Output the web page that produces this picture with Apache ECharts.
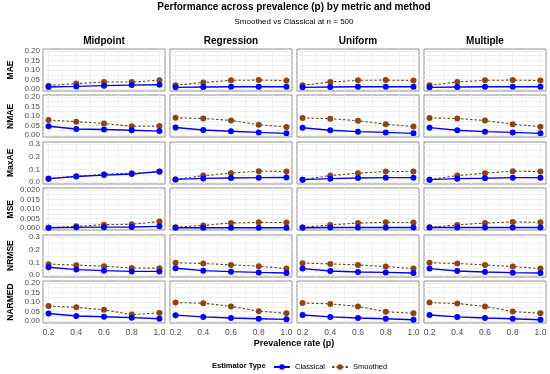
<!DOCTYPE html>
<html>
<head>
<meta charset="utf-8">
<script src="https://cdn.jsdelivr.net/npm/echarts@6/dist/echarts.min.js"></script>
<style>html,body{margin:0;padding:0;background:#fff}#c{width:550px;height:374px}</style>
</head>
<body>
<div id="c"></div>
<script>
const prevalence = [0.2, 0.4, 0.6, 0.8, 1.0];
const methods = ['Midpoint', 'Regression', 'Uniform', 'Multiple'];
const metrics = ['MAE', 'NMAE', 'MaxAE', 'MSE', 'NRMSE', 'NARMED'];
const xTicks = [0.2, 0.4, 0.6, 0.8, 1.0];

// values per method: Midpoint, Regression, Uniform, Multiple
const maeClassical = [[0.011,0.014,0.018,0.021,0.023],[0.009,0.011,0.0125,0.0125,0.0125],[0.009,0.011,0.0125,0.0125,0.0125],[0.009,0.011,0.0125,0.0125,0.0125]];
const maeSmoothed = [[0.018,0.029,0.037,0.037,0.046],[0.02,0.035,0.046,0.047,0.045],[0.02,0.037,0.046,0.047,0.045],[0.02,0.037,0.046,0.047,0.045]];
const nmaeClassical = [[0.046,0.032,0.029,0.025,0.021],[0.04,0.027,0.02,0.014,0.009],[0.0385,0.025,0.018,0.014,0.009],[0.039,0.025,0.018,0.014,0.009]];
const nmaeSmoothed = [[0.079,0.07,0.061,0.046,0.047],[0.091,0.087,0.077,0.054,0.043],[0.09,0.086,0.075,0.057,0.045],[0.09,0.087,0.076,0.057,0.044]];
const maxaeClassical = [[0.027,0.044,0.055,0.063,0.083],[0.021,0.029,0.032,0.035,0.036],[0.019,0.027,0.032,0.035,0.035],[0.019,0.027,0.03,0.035,0.035]];
const maxaeSmoothed = [[0.027,0.045,0.062,0.07,0.082],[0.021,0.051,0.07,0.086,0.083],[0.019,0.051,0.07,0.083,0.083],[0.019,0.051,0.07,0.086,0.083]];
const mseClassical = [[0.0002,0.0004,0.0005,0.0006,0.0009],[0.0002,0.0002,0.0002,0.0002,0.0002],[0.0002,0.0003,0.0003,0.0003,0.0003],[0.0003,0.0003,0.0003,0.0003,0.0003]];
const mseSmoothed = [[0.0002,0.0009,0.0018,0.002,0.0034],[0.0005,0.0014,0.0027,0.003,0.0029],[0.0004,0.0016,0.0027,0.003,0.0029],[0.0004,0.0016,0.0027,0.0032,0.003]];
const nrmseClassical = [[0.062,0.043,0.035,0.029,0.029],[0.054,0.035,0.027,0.021,0.016],[0.051,0.032,0.024,0.021,0.016],[0.051,0.032,0.024,0.019,0.016]];
const nrmseSmoothed = [[0.086,0.078,0.07,0.056,0.054],[0.097,0.091,0.08,0.07,0.051],[0.094,0.088,0.08,0.067,0.051],[0.097,0.091,0.08,0.067,0.051]];
const narmedClassical = [[0.04,0.027,0.023,0.018,0.0126],[0.031,0.022,0.016,0.0126,0.009],[0.032,0.022,0.016,0.0126,0.007],[0.032,0.022,0.016,0.0126,0.007]];
const narmedSmoothed = [[0.079,0.072,0.059,0.034,0.043],[0.097,0.094,0.077,0.052,0.041],[0.095,0.09,0.077,0.049,0.041],[0.097,0.092,0.077,0.05,0.041]];

// y-axis tick labels per metric
const yTicksMAE = [0, 0.05, 0.10, 0.15, 0.20];
const yTicksMaxAE = [0, 0.1, 0.2, 0.3];
const yTicksMSE = [0, 0.005, 0.010, 0.015, 0.020];

const classicalByMetric = [maeClassical, nmaeClassical, maxaeClassical, mseClassical, nrmseClassical, narmedClassical];
const smoothedByMetric = [maeSmoothed, nmaeSmoothed, maxaeSmoothed, mseSmoothed, nrmseSmoothed, narmedSmoothed];
const yTicksByMetric = [yTicksMAE, yTicksMAE, yTicksMaxAE, yTicksMSE, yTicksMaxAE, yTicksMAE];
const yDecimals = [2, 2, 1, 3, 1, 2];

const FONT = 'Liberation Sans, Arial, sans-serif';
const L0 = 43, PW = 122, PX = 127;
const T0 = 49, PH = 42, PY = 46.4;

function expandRange(lo, hi) { const d = (hi - lo) * 0.05; return [lo - d, hi + d]; }
function gridVals(ticks) {
  const out = [];
  for (let i = 0; i < ticks.length; i++) {
    out.push(ticks[i]);
    if (i < ticks.length - 1) out.push((ticks[i] + ticks[i + 1]) / 2);
  }
  return out;
}

const grids = [], xAxes = [], yAxes = [], seriesS = [], seriesC = [];
const graphics = [];
let idx = 0;
for (let r = 0; r < metrics.length; r++) {
  const yt = yTicksByMetric[r];
  const yr = expandRange(yt[0], yt[yt.length - 1]);
  const xr = expandRange(xTicks[0], xTicks[xTicks.length - 1]);
  for (let c = 0; c < methods.length; c++) {
    const left = L0 + c * PX, top = Math.round(T0 + r * PY);
    grids.push({ left: left, top: top, width: PW, height: PH, show: true, borderColor: '#8f8f8f', borderWidth: 1, backgroundColor: '#fff' });
    xAxes.push({
      type: 'value', gridIndex: idx, min: xr[0], max: xr[1],
      axisLine: { show: false },
      axisTick: { show: false, customValues: gridVals(xTicks) },
      splitLine: { show: true, lineStyle: { color: '#ebebeb', width: 0.8 } },
      axisLabel: { show: r === metrics.length - 1, customValues: xTicks, formatter: v => v.toFixed(1), color: '#4d4d4d', fontSize: 8.5, fontFamily: FONT, margin: 5 }
    });
    yAxes.push({
      type: 'value', gridIndex: idx, min: yr[0], max: yr[1],
      axisLine: { show: false },
      axisTick: { show: false, customValues: gridVals(yt) },
      splitLine: { show: true, lineStyle: { color: '#ebebeb', width: 0.8 } },
      axisLabel: { show: c === 0, customValues: yt, formatter: v => v.toFixed(yDecimals[r]), color: '#4d4d4d', fontSize: 8, fontFamily: FONT, margin: 3 }
    });
    seriesS.push({
      name: 'Smoothed', type: 'line', xAxisIndex: idx, yAxisIndex: idx,
      data: prevalence.map((p, k) => [p, smoothedByMetric[r][c][k]]),
      symbol: 'circle', symbolSize: 6, showSymbol: true,
      itemStyle: { color: '#8B4513' },
      lineStyle: { color: '#6b4a14', width: 1.1, type: [2.5, 2] },
      animation: false, silent: true
    });
    seriesC.push({
      name: 'Classical', type: 'line', xAxisIndex: idx, yAxisIndex: idx,
      data: prevalence.map((p, k) => [p, classicalByMetric[r][c][k]]),
      symbol: 'circle', symbolSize: 6, showSymbol: true,
      itemStyle: { color: '#0000ff' },
      lineStyle: { color: '#0000ff', width: 1.4 },
      animation: false, silent: true
    });
    idx++;
  }
  graphics.push({
    type: 'text', x: 11, y: T0 + r * PY + PH / 2, rotation: Math.PI / 2,
    style: { text: metrics[r], font: 'bold 8.5px ' + FONT, fill: '#000', textAlign: 'center', textVerticalAlign: 'middle' }
  });
}
methods.forEach((m, c) => {
  graphics.push({
    type: 'text', x: L0 + c * PX + PW / 2, y: 41,
    style: { text: m, font: 'bold 10px ' + FONT, fill: '#000', textAlign: 'center', textVerticalAlign: 'middle' }
  });
});
graphics.push({ type: 'text', x: 294, y: 7.5, style: { text: 'Performance across prevalence (p) by metric and method', font: 'bold 10px ' + FONT, fill: '#000', textAlign: 'center', textVerticalAlign: 'middle' } });
graphics.push({ type: 'text', x: 294, y: 21.5, style: { text: 'Smoothed vs Classical at n = 500', font: '8px ' + FONT, fill: '#000', textAlign: 'center', textVerticalAlign: 'middle' } });
graphics.push({ type: 'text', x: 294, y: 343.5, style: { text: 'Prevalence rate (p)', font: 'bold 9px ' + FONT, fill: '#000', textAlign: 'center', textVerticalAlign: 'middle' } });
graphics.push({ type: 'text', x: 212, y: 365.5, style: { text: 'Estimator Type', font: 'bold 7.5px ' + FONT, fill: '#000', textAlign: 'left', textVerticalAlign: 'middle' } });

const chart = echarts.init(document.getElementById('c'), null, { renderer: 'canvas' });
chart.setOption({
  animation: false,
  backgroundColor: '#fff',
  grid: grids, xAxis: xAxes, yAxis: yAxes,
  series: seriesS.concat(seriesC),
  legend: {
    data: ['Classical', 'Smoothed'], left: 268, top: 358, itemWidth: 16, itemHeight: 7, itemGap: 6,
    textStyle: { fontSize: 7.5, fontFamily: FONT, color: '#000' },
    selectedMode: false
  },
  graphic: graphics
});
</script>
</body>
</html>
